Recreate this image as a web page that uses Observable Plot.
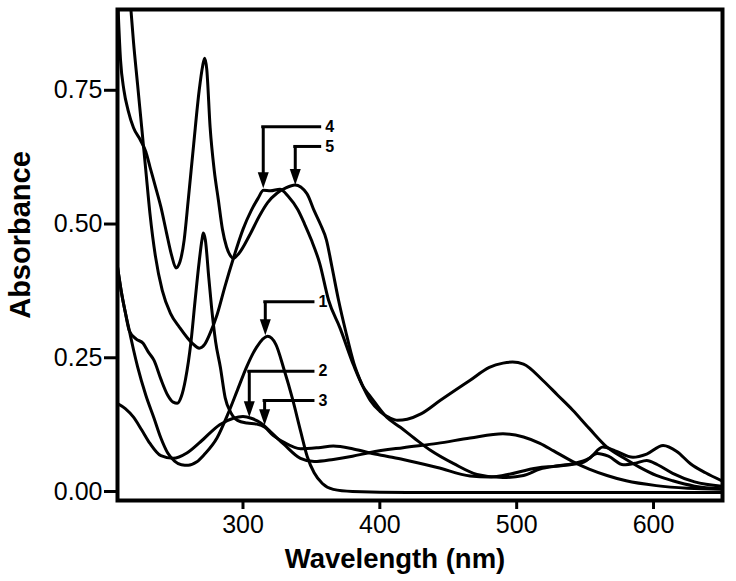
<!DOCTYPE html>
<html>
<head>
<meta charset="utf-8">
<script src="https://cdn.jsdelivr.net/npm/d3@7"></script>
<script src="https://cdn.jsdelivr.net/npm/@observablehq/plot@0.6"></script>
<style>
  html, body { margin: 0; padding: 0; background: #fff; }
</style>
</head>
<body>
<div id="chart"></div>
<script>
// ---- Data ----
const xTicks = [300, 400, 500, 600];
const yTicks = [0, 0.25, 0.5, 0.75];

// Spectrum 1
const wl1  = [208, 211, 214, 217, 220, 223, 229, 235, 240, 245, 250, 255, 260, 266, 272, 281, 289, 296, 303, 310, 318, 324, 330, 336, 342, 347, 352, 358, 366, 380, 420, 480, 540, 600, 650];
const abs1 = [0.425, 0.375, 0.335, 0.30, 0.265, 0.233, 0.18, 0.137, 0.10, 0.072, 0.057, 0.05, 0.049, 0.055, 0.07, 0.10, 0.145, 0.19, 0.235, 0.27, 0.29, 0.275, 0.228, 0.175, 0.114, 0.065, 0.035, 0.015, 0.004, 0.0, -0.002, -0.002, -0.002, -0.002, -0.002];

// Spectrum 2
const wl2  = [208, 214, 220, 226, 232, 240, 249, 259, 269, 283, 293, 300, 306, 313, 320, 330, 342, 352, 366, 380, 393, 417, 442, 466, 490, 505, 517, 527, 541, 553, 566, 580, 602, 625, 650];
const abs2 = [0.165, 0.155, 0.139, 0.115, 0.09, 0.067, 0.062, 0.072, 0.093, 0.125, 0.137, 0.14, 0.137, 0.128, 0.112, 0.088, 0.062, 0.056, 0.06, 0.066, 0.073, 0.082, 0.09, 0.1, 0.108, 0.102, 0.09, 0.076, 0.056, 0.042, 0.03, 0.02, 0.011, 0.006, 0.004];

// Spectrum 3
const wl3  = [208, 211, 214, 217, 222, 227, 231, 235, 240, 245, 249, 252, 255, 258, 262, 265, 268, 270, 271, 272.5, 275, 277, 280, 283.5, 287, 291, 296, 303, 310, 316, 322, 330, 342, 355, 366, 380, 393, 405, 417, 442, 466, 480, 490, 515, 527, 539, 549, 559, 567, 578, 587, 595, 603, 614, 630, 650];
const abs3 = [0.425, 0.375, 0.335, 0.30, 0.285, 0.277, 0.26, 0.245, 0.21, 0.18, 0.167, 0.165, 0.178, 0.21, 0.28, 0.357, 0.43, 0.47, 0.483, 0.47, 0.40, 0.345, 0.28, 0.232, 0.175, 0.148, 0.133, 0.128, 0.126, 0.12, 0.105, 0.092, 0.08, 0.082, 0.085, 0.08, 0.072, 0.066, 0.06, 0.045, 0.029, 0.027, 0.03, 0.044, 0.047, 0.05, 0.055, 0.071, 0.066, 0.05, 0.053, 0.058, 0.05, 0.034, 0.018, 0.01];

// Spectrum 4
const wl4  = [217.5, 220, 223, 226, 229, 232, 236, 241, 247, 253.6, 263, 268, 272, 276, 281, 287, 293, 300, 306, 311, 315, 320, 327, 333, 340, 345, 350, 356, 362.5, 371, 381, 388, 393, 405, 415, 425, 437, 454, 471, 490, 505, 517, 530, 541, 553, 563, 572, 585, 595, 607, 617, 627, 638, 650];
const abs4 = [0.92, 0.84, 0.76, 0.68, 0.6, 0.52, 0.44, 0.376, 0.333, 0.307, 0.277, 0.268, 0.275, 0.296, 0.33, 0.385, 0.436, 0.49, 0.525, 0.548, 0.563, 0.562, 0.565, 0.552, 0.527, 0.5, 0.47, 0.427, 0.358, 0.305, 0.235, 0.195, 0.178, 0.139, 0.12, 0.1, 0.077, 0.052, 0.032, 0.026, 0.03, 0.042, 0.048, 0.052, 0.062, 0.083, 0.076, 0.064, 0.07, 0.086, 0.075, 0.052, 0.035, 0.02];

// Spectrum 5
const wl5  = [208, 210.5, 213, 216, 220, 225, 229, 232, 236, 240, 244, 248, 251, 254, 257, 260, 264, 268, 270.5, 272, 273.5, 276, 279, 282, 285, 288, 291, 293, 297, 305, 312, 318, 325, 331, 338, 346.7, 352, 356.5, 361, 365, 369.8, 375, 381, 387, 393, 400, 407, 413, 420, 430, 444, 466, 480, 490, 497, 505, 519, 530, 541, 553, 566, 578, 590, 602, 614, 630, 650];
const abs5 = [0.95, 0.807, 0.75, 0.713, 0.68, 0.657, 0.635, 0.607, 0.57, 0.532, 0.485, 0.44, 0.418, 0.43, 0.47, 0.545, 0.65, 0.75, 0.795, 0.81, 0.79, 0.68, 0.6, 0.545, 0.49, 0.457, 0.44, 0.436, 0.445, 0.48, 0.515, 0.54, 0.558, 0.567, 0.573, 0.557, 0.525, 0.5, 0.47, 0.42, 0.358, 0.3, 0.24, 0.2, 0.17, 0.15, 0.138, 0.133, 0.135, 0.145, 0.17, 0.208, 0.232, 0.24, 0.242, 0.238, 0.208, 0.18, 0.152, 0.118, 0.083, 0.063, 0.045, 0.03, 0.02, 0.01, 0.005];

// Annotation arrows: label, arrow wavelength, bar height, tip height, bar end
const annLabels = ["1", "2", "3", "4", "5"];
const annX      = [316.3, 304.6, 315.8, 314.8, 338.2];
const annBar    = [0.3545, 0.225, 0.170, 0.682, 0.645];
const annTip    = [0.292, 0.139, 0.124, 0.567, 0.573];
const annEnd    = [351.5, 351.5, 351.5, 356.4, 356.4];

// ---- Build tables ----
const series = [[wl1, abs1], [wl2, abs2], [wl3, abs3], [wl4, abs4], [wl5, abs5]];
const rows = [];
series.forEach(([w, a], i) => w.forEach((x, j) => rows.push({s: i + 1, wl: x, a: a[j]})));
const ann = annLabels.map((l, i) => ({label: l, x: annX[i], bar: annBar[i], tip: annTip[i], end: annEnd[i]}));

// Narrow filled arrowhead with its tip at the anchor point
const arrowHead = {
  draw(context) {
    context.moveTo(0, 0);
    context.lineTo(-5.5, -16);
    context.lineTo(5.5, -16);
    context.closePath();
  }
};

const font = "'Liberation Sans', Arial, Helvetica, sans-serif";

const chart = Plot.plot({
  width: 736,
  height: 581,
  marginLeft: 117,
  marginRight: 14,
  marginTop: 9,
  marginBottom: 81,
  style: {fontFamily: font, background: "white", color: "black"},
  x: {domain: [208.3, 650.4]},
  y: {domain: [-0.0168, 0.901]},
  marks: [
    Plot.line(rows, {x: "wl", y: "a", z: "s", stroke: "black", strokeWidth: 3, curve: "monotone-x", clip: true}),
    Plot.ruleY(ann, {y: "bar", x1: "x", x2: "end", stroke: "black", strokeWidth: 3, strokeLinecap: "square"}),
    Plot.ruleX(ann, {x: "x", y1: "bar", y2: "tip", stroke: "black", strokeWidth: 3, strokeLinecap: "butt", insetBottom: 8}),
    Plot.dot(ann, {x: "x", y: "tip", symbol: arrowHead, fill: "black", stroke: "none"}),
    Plot.text(ann, {x: "end", y: "bar", text: "label", textAnchor: "start", dx: 5, fontSize: 16, fontWeight: "bold"}),
    Plot.frame({stroke: "black", strokeWidth: 4}),
    Plot.axisX({ticks: xTicks, tickSize: 9, tickPadding: 6, fontSize: 25, strokeWidth: 3, label: null, tickFormat: d3.format("d")}),
    Plot.axisY({ticks: yTicks, tickSize: 13, tickPadding: 2, fontSize: 25, strokeWidth: 3, label: null, tickFormat: d3.format(".2f")}),
    Plot.text(["Wavelength (nm)"], {frameAnchor: "bottom", textAnchor: "middle", lineAnchor: "middle", dx: -25, dy: 59, fontSize: 27.5, fontWeight: "bold"}),
    Plot.text(["Absorbance"], {frameAnchor: "left", textAnchor: "middle", lineAnchor: "middle", rotate: -90, dx: -97, dy: -20, fontSize: 29, fontWeight: "bold"})
  ]
});
document.getElementById("chart").appendChild(chart);
</script>
</body>
</html>
